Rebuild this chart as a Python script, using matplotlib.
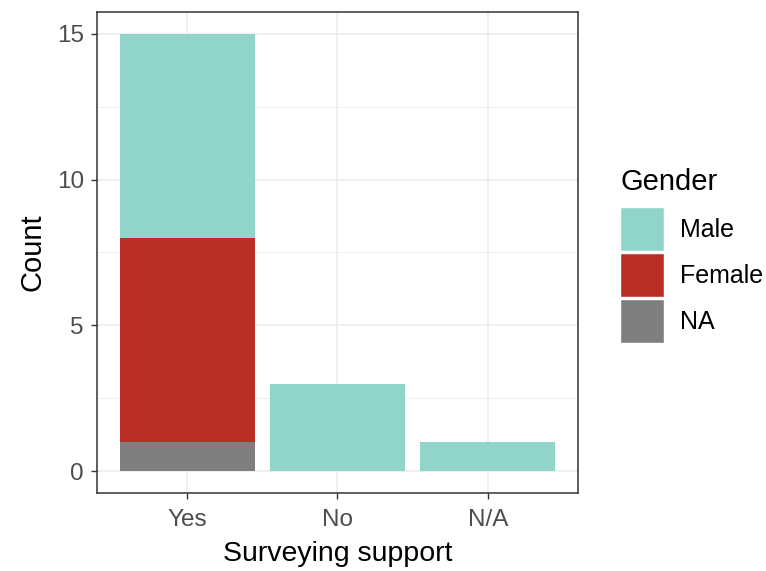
import matplotlib
matplotlib.use("Agg")
import matplotlib.pyplot as plt
from matplotlib.patches import Patch
import numpy as np

plt.rcParams['font.family'] = ['Liberation Sans', 'DejaVu Sans']

categories = ["Yes", "No", "N/A"]
male = [7, 3, 1]
female = [7, 0, 0]
na = [1, 0, 0]

colors = {"Male": "#90D4CA", "Female": "#B92F27", "NA": "#7F7F7F"}

fig = plt.figure(figsize=(7.66, 5.71), dpi=100)
ax = fig.add_axes([0.1266, 0.1366, 0.6280, 0.8424])

x = np.arange(1, len(categories) + 1)
na_arr = np.array(na)
fem_arr = np.array(female)
male_arr = np.array(male)

ax.bar(x, na_arr, width=0.9, color=colors["NA"], zorder=3)
ax.bar(x, fem_arr, width=0.9, bottom=na_arr, color=colors["Female"], zorder=3)
ax.bar(x, male_arr, width=0.9, bottom=na_arr + fem_arr, color=colors["Male"], zorder=3)

ax.set_xlim(0.4, 3.6)
ax.set_ylim(-0.75, 15.75)
ax.set_xticks(x)
ax.set_xticklabels(categories)
ax.set_yticks([0, 5, 10, 15])
ax.set_yticks([2.5, 7.5, 12.5], minor=True)

ax.grid(True, which="major", color="#EBEBEB", linewidth=1.1, zorder=0)
ax.grid(True, which="minor", axis="y", color="#EBEBEB", linewidth=0.6, zorder=0)
ax.tick_params(which="minor", length=0)
ax.tick_params(which="major", length=4, width=1, color="#333333",
               labelcolor="#4D4D4D", labelsize=17.5, pad=5.5)
ax.tick_params(axis="x", pad=7.5)
for s in ax.spines.values():
    s.set_color("#333333")
    s.set_linewidth(1.1)

ax.set_xlabel("Surveying support", fontsize=20.5, color="black", labelpad=7)
ax.set_ylabel("Count", fontsize=21, color="black", labelpad=7)

# legend title drawn separately so the gap to the keys matches
fig.text(620 / 766, 1 - 190 / 571, "Gender", fontsize=21, ha="left", va="baseline")

handles = [Patch(facecolor=colors[k], edgecolor="white", linewidth=1) for k in ["Male", "Female", "NA"]]
leg = fig.legend(handles, ["Male", "Female", "NA"],
                 loc="upper left", bbox_to_anchor=(620 / 766, 1 - 207 / 571),
                 frameon=False, fontsize=18, borderpad=0,
                 handlelength=1.76, handleheight=2.33, handletextpad=0.64,
                 labelspacing=0.08, borderaxespad=0)

fig.savefig("out.png", dpi=100)
